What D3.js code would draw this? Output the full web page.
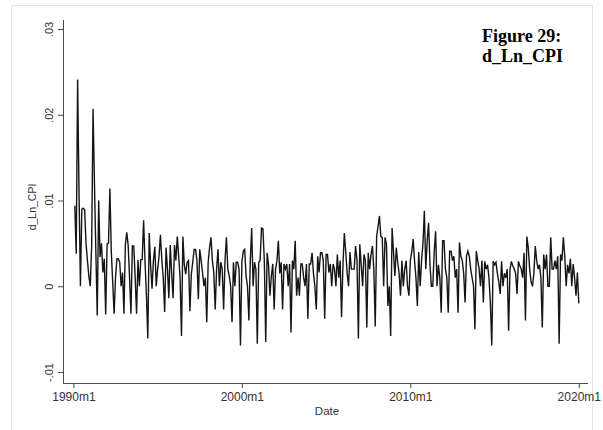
<!DOCTYPE html>
<html>
<head>
<meta charset="utf-8">
<script src="https://cdn.jsdelivr.net/npm/d3@7"></script>
<style>
  html, body { margin: 0; padding: 0; background: #fff; }
  svg { display: block; }
</style>
</head>
<body>
<svg id="chart" width="603" height="430"></svg>
<script>
// Monthly first difference of ln(CPI), 1990m2 .. 2020m1, one row per calendar year
const y1990 = [.0094,.0038,.0241,.0110,.0000,.0090,.0091,.0089,.0050,.0030,.0012];
const y1991 = [.0000,.0047,.0207,.0120,.0040,-.0034,.0100,.0034,.0050,.0016,.0032,-.0033];
const y1992 = [.0049,.0050,.0114,.0040,.0005,-.0032,.0010,.0032,.0032,.0028,.0000,.0016];
const y1993 = [-.0032,.0048,.0063,.0048,.0010,-.0032,.0047,.0047,.0010,-.0032,.0031,.0000];
const y1994 = [.0031,.0031,.0077,.0030,-.0010,-.0061,.0062,.0025,-.0003,.0030,.0046,.0000];
const y1995 = [.0020,.0035,.0060,.0030,.0010,-.0030,.0045,.0020,-.0014,.0048,.0015,-.0014];
const y1996 = [.0048,.0030,.0058,.0035,.0010,-.0058,.0058,.0025,.0014,.0028,.0030,-.0029];
const y1997 = [.0014,.0028,.0043,.0043,.0030,-.0015,.0043,.0030,.0016,.0000,.0010,-.0042];
const y1998 = [.0028,.0045,.0057,.0030,.0016,-.0027,.0020,.0043,.0000,.0028,.0020,-.0027];
const y1999 = [.0030,.0057,.0020,.0012,.0000,-.0042,.0028,.0000,.0028,.0028,.0020,-.0069];
const y2000 = [.0028,.0041,.0043,.0012,.0000,-.0040,.0030,.0068,.0000,.0028,.0020,-.0067];
const y2001 = [.0028,.0030,.0068,.0067,.0030,-.0065,.0039,.0025,-.0011,.0012,.0026,-.0027];
const y2002 = [.0020,.0030,.0053,.0015,.0028,-.0027,.0026,.0020,.0026,.0000,.0026,-.0054];
const y2003 = [.0030,.0020,.0053,-.0011,.0010,-.0011,.0026,.0026,.0010,.0000,.0026,-.0038];
const y2004 = [.0026,.0026,.0039,.0015,.0000,-.0027,.0035,.0016,.0039,.0039,.0030,-.0038];
const y2005 = [.0037,.0037,.0016,.0026,.0000,.0026,.0020,.0000,.0037,.0010,.0030,-.0036];
const y2006 = [.0025,.0062,.0040,.0015,.0000,.0040,.0020,.0020,.0020,.0047,.0030,-.0061];
const y2007 = [.0049,.0026,.0000,.0037,.0030,-.0048,.0039,.0020,.0037,.0047,.0020,-.0047];
const y2008 = [.0058,.0070,.0082,.0058,.0057,.0000,.0057,.0049,-.0023,.0000,-.0058,.0068];
const y2009 = [.0040,.0012,.0045,.0028,.0015,-.0011,.0030,.0000,.0020,.0030,.0000,-.0011];
const y2010 = [.0030,.0040,.0055,.0030,.0010,-.0023,.0040,.0000,.0030,.0050,.0088,.0020];
const y2011 = [.0053,.0074,.0025,.0000,.0000,.0040,.0064,.0000,.0025,.0010,-.0031,.0053];
const y2012 = [.0053,.0020,.0010,-.0031,.0041,.0041,.0030,.0035,.0010,.0020,-.0031,.0051];
const y2013 = [.0035,.0030,.0015,-.0019,.0035,.0041,.0035,.0020,.0010,.0000,-.0050,.0041];
const y2014 = [.0030,.0020,.0000,.0030,-.0019,.0029,.0020,.0025,.0010,-.0019,-.0069,.0029];
const y2015 = [.0025,.0028,.0015,.0005,-.0009,.0029,.0000,.0015,.0010,.0020,-.0052,.0020];
const y2016 = [.0029,.0024,.0020,.0015,-.0009,.0029,.0024,.0020,.0010,.0039,-.0040,.0058];
const y2017 = [.0045,.0020,.0005,.0000,.0015,.0047,.0030,.0020,.0025,.0010,-.0048,.0037];
const y2018 = [.0020,.0037,.0000,.0000,.0057,.0020,.0020,.0030,.0020,.0035,-.0067,.0037];
const y2019 = [.0030,.0057,.0035,.0000,.0025,.0015,.0032,.0000,.0026,.0010,-.0011,.0016];
const y2020 = [-.0020];

const yTicks = [-0.01, 0, 0.01, 0.02, 0.03];
const yTickLabels = ["-.01", "0", ".01", ".02", ".03"];
const xTicks = [0, 120, 240, 360];          // months since 1990m1
const xTickLabels = ["1990m1", "2000m1", "2010m1", "2020m1"];
const titleLines = ["Figure 29:", "d_Ln_CPI"];

const yearRows = [y1990,y1991,y1992,y1993,y1994,y1995,y1996,y1997,y1998,y1999,
  y2000,y2001,y2002,y2003,y2004,y2005,y2006,y2007,y2008,y2009,
  y2010,y2011,y2012,y2013,y2014,y2015,y2016,y2017,y2018,y2019,y2020];
const values = yearRows.flat();
// first observation is 1990m2 (month index 1)
const series = values.map((v, i) => ({ m: i + 1, v }));

const svg = d3.select("#chart");
const font = "Arial, 'Liberation Sans', sans-serif";
const axisColor = "#4a4a4a";

// outer graph frame
svg.append("rect")
  .attr("x", 11.5).attr("y", 5.5)
  .attr("width", 581).attr("height", 440)
  .attr("fill", "#fff")
  .attr("stroke", "#e0e6ee").attr("stroke-width", 1);

const x = d3.scaleLinear().domain([0, 360]).range([73.4, 578.8]);
const y = d3.scaleLinear().domain([-0.01, 0.03]).range([372, 29]);

const plotLeft = 63, plotRight = 588, plotTop = 20, plotBottom = 383;

// y axis
const yAxis = d3.axisLeft(y)
  .tickValues(yTicks)
  .tickFormat((d, i) => yTickLabels[i])
  .tickSize(5).tickPadding(4);
const gy = svg.append("g").attr("transform", `translate(${plotLeft},0)`).call(yAxis);
gy.select(".domain").remove();
gy.selectAll(".tick line").attr("stroke", axisColor);
gy.selectAll(".tick text")
  .attr("font-family", font).attr("font-size", 11).attr("fill", "#333")
  .attr("x", 0).attr("y", -10).attr("dy", 0)
  .attr("text-anchor", "middle")
  .attr("transform", "rotate(-90)");
svg.append("line")
  .attr("x1", plotLeft + 0.5).attr("x2", plotLeft + 0.5)
  .attr("y1", plotTop).attr("y2", plotBottom)
  .attr("stroke", axisColor).attr("stroke-width", 1);

// x axis
const xAxis = d3.axisBottom(x)
  .tickValues(xTicks)
  .tickFormat((d, i) => xTickLabels[i])
  .tickSize(5).tickPadding(4);
const gx = svg.append("g").attr("transform", `translate(0,${plotBottom})`).call(xAxis);
gx.select(".domain").remove();
gx.selectAll(".tick line").attr("stroke", axisColor);
gx.selectAll(".tick text")
  .attr("font-family", font).attr("font-size", 12).attr("fill", "#333");
svg.append("line")
  .attr("x1", plotLeft).attr("x2", plotRight)
  .attr("y1", plotBottom + 0.5).attr("y2", plotBottom + 0.5)
  .attr("stroke", axisColor).attr("stroke-width", 1);

// axis titles
svg.append("text")
  .attr("transform", `translate(36,207) rotate(-90)`)
  .attr("text-anchor", "middle")
  .attr("font-family", font).attr("font-size", 10.5).attr("fill", "#333")
  .text("d_Ln_CPI");
svg.append("text")
  .attr("x", 327).attr("y", 415)
  .attr("text-anchor", "middle")
  .attr("font-family", font).attr("font-size", 11.5).attr("fill", "#333")
  .text("Date");

// series line
const line = d3.line().x(d => x(d.m)).y(d => y(d.v));
svg.append("path")
  .datum(series)
  .attr("d", line)
  .attr("fill", "none")
  .attr("stroke", "#151515")
  .attr("stroke-width", 1.4)
  .attr("stroke-linejoin", "miter");

// figure caption
svg.append("g").selectAll("text")
  .data(titleLines).join("text")
  .attr("x", 482).attr("y", (d, i) => 42 + i * 20)
  .attr("font-family", "'Liberation Serif', 'Times New Roman', serif")
  .attr("font-weight", "bold").attr("font-size", 18).attr("fill", "#000")
  .text(d => d);
</script>
</body>
</html>
